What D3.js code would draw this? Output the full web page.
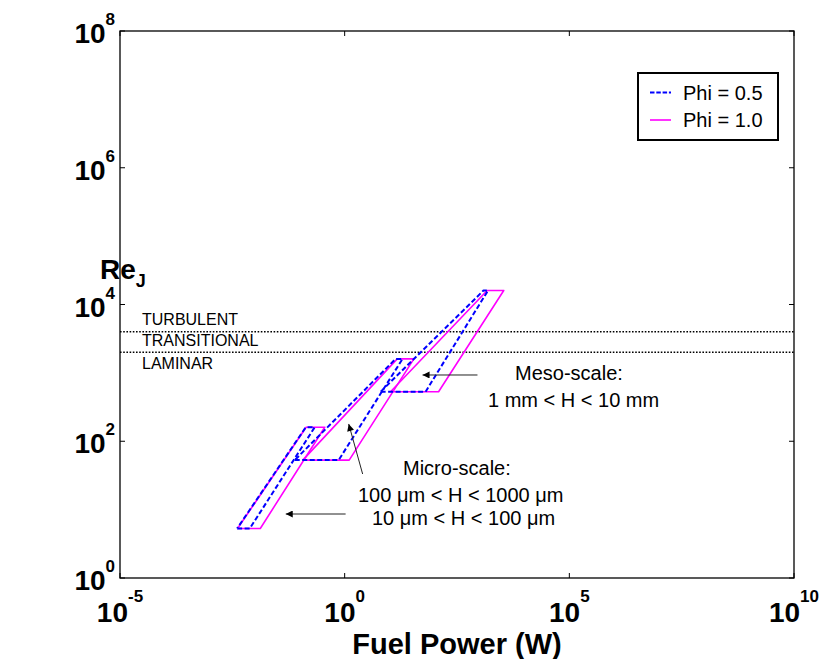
<!DOCTYPE html>
<html>
<head>
<meta charset="utf-8">
<script src="https://cdn.jsdelivr.net/npm/d3@7"></script>
<style>
  body { margin: 0; background: #fff; }
  svg text { font-family: "Liberation Sans", Arial, Helvetica, sans-serif; }
</style>
</head>
<body>
<svg id="chart" width="822" height="659"></svg>
<script>
// Corner points (fuel power in W, jet Reynolds number) of each operating region:
// rows = 10-100 um, 100-1000 um, 1-10 mm channel heights
const phi05Power = [
  [4.04e-3, 7.74e-3, 0.215, 0.136],
  [0.0774, 0.735, 19.4, 13.6],
  [6.31, 63.1, 1550, 1227]
];
const phi05Re = [
  [5.3, 5.3, 160, 160],
  [53, 53, 1600, 1600],
  [530, 530, 16000, 16000]
];
const phi10Power = [
  [4.13e-3, 0.01325, 0.36, 0.139],
  [0.117, 1.26, 34.7, 14.8],
  [10.5, 123, 3470, 1483]
];
const phi10Re = [
  [5.3, 5.3, 160, 160],
  [53, 53, 1600, 1600],
  [530, 530, 16000, 16000]
];

// Flow regime boundaries
const regimeRe = [2000, 4000];
const regimeNames = ["TURBULENT", "TRANSITIONAL", "LAMINAR"];

// Axis ticks (decade exponents)
const xTickExp = [-5, 0, 5, 10];
const yTickExp = [0, 2, 4, 6, 8];

// Legend entries
const seriesNames = ["Phi = 0.5", "Phi = 1.0"];

const m = { left: 120, right: 794, top: 31, bottom: 578 };

const svg = d3.select("#chart");

const x = d3.scaleLog().domain([1e-5, 1e10]).range([m.left, m.right]);
const y = d3.scaleLog().domain([1e0, 1e8]).range([m.bottom, m.top]);

// Plot frame
svg.append("rect")
  .attr("x", m.left).attr("y", m.top)
  .attr("width", m.right - m.left).attr("height", m.bottom - m.top)
  .attr("fill", "#fff").attr("stroke", "#000").attr("stroke-width", 1.3);

// Inward ticks on all four sides
const tickLen = 5;
const xTicks = xTickExp.map(e => Math.pow(10, e));
const yTicks = yTickExp.map(e => Math.pow(10, e));
const axisG = svg.append("g").attr("stroke", "#000").attr("stroke-width", 1);
xTicks.forEach(v => {
  axisG.append("line").attr("x1", x(v)).attr("x2", x(v)).attr("y1", m.bottom).attr("y2", m.bottom - tickLen);
  axisG.append("line").attr("x1", x(v)).attr("x2", x(v)).attr("y1", m.top).attr("y2", m.top + tickLen);
});
yTicks.forEach(v => {
  axisG.append("line").attr("x1", m.left).attr("x2", m.left + tickLen).attr("y1", y(v)).attr("y2", y(v));
  axisG.append("line").attr("x1", m.right).attr("x2", m.right - tickLen).attr("y1", y(v)).attr("y2", y(v));
});

// Tick labels: 10 with superscript exponent
xTickExp.forEach(e => {
  const t = svg.append("text")
    .attr("x", x(Math.pow(10, e))).attr("y", m.bottom + 44)
    .attr("text-anchor", "middle")
    .attr("font-weight", "bold").attr("font-size", 28).attr("fill", "#000");
  t.append("tspan").text("10");
  t.append("tspan").attr("dy", -20).attr("font-size", 17).text(e);
});
yTickExp.forEach(e => {
  const t = svg.append("text")
    .attr("x", 115).attr("y", y(Math.pow(10, e)) + 12)
    .attr("text-anchor", "end")
    .attr("font-weight", "bold").attr("font-size", 28).attr("fill", "#000");
  t.append("tspan").text("10");
  t.append("tspan").attr("dy", -18).attr("font-size", 17).text(e);
});

// Axis titles
svg.append("text")
  .attr("x", (m.left + m.right) / 2).attr("y", 654)
  .attr("text-anchor", "middle")
  .attr("font-weight", "bold").attr("font-size", 29)
  .text("Fuel Power (W)");
const yTitle = svg.append("text")
  .attr("x", 100).attr("y", 279)
  .attr("font-weight", "bold").attr("font-size", 28);
yTitle.append("tspan").text("Re");
yTitle.append("tspan").attr("dy", 8).attr("font-size", 18).text("J");

// Regime boundaries (dotted)
const plotG = svg.append("g");
regimeRe.forEach(r => {
  plotG.append("line")
    .attr("x1", m.left).attr("x2", m.right)
    .attr("y1", y(r)).attr("y2", y(r))
    .attr("stroke", "#000").attr("stroke-width", 1.6)
    .attr("stroke-dasharray", "1.6,1.6");
});
const regimeY = [y(regimeRe[1]) - 6.5, y(regimeRe[0]) - 6.5, y(regimeRe[0]) + 17];
regimeNames.forEach((name, i) => {
  plotG.append("text")
    .attr("x", 142).attr("y", regimeY[i])
    .attr("font-size", 16).attr("fill", "#000")
    .text(name);
});

// Operating regions
const line = d3.line().x(d => x(d[0])).y(d => y(d[1]));
function region(power, re, color, dash, width) {
  power.forEach((p, k) => {
    const pts = p.map((v, j) => [v, re[k][j]]);
    pts.push(pts[0]);
    plotG.append("path")
      .attr("d", line(pts))
      .attr("fill", "none")
      .attr("stroke", color)
      .attr("stroke-width", width)
      .attr("stroke-linejoin", "round")
      .attr("stroke-dasharray", dash);
  });
}
region(phi10Power, phi10Re, "#ff00ff", null, 1.6);
region(phi05Power, phi05Re, "#0000ff", "5,2.5", 2);

// Annotations
const annots = [
  { text: "Meso-scale:", x: 515, y: 380 },
  { text: "1 mm < H < 10 mm", x: 488, y: 407 },
  { text: "Micro-scale:", x: 403, y: 475 },
  { text: "100 \u03bcm < H < 1000 \u03bcm", x: 358, y: 502 },
  { text: "10 \u03bcm < H < 100 \u03bcm", x: 372, y: 525 }
];
annots.forEach(a => {
  plotG.append("text").attr("x", a.x).attr("y", a.y)
    .attr("font-size", 20).attr("fill", "#000").text(a.text);
});

// Arrows (tail -> head), in data coordinates
const arrows = [
  [[903, 931], [54.1, 931]],
  [[2.51, 33.2], [1.23, 179]],
  [[1.05, 8.63], [0.0489, 8.63]]
];
svg.append("defs").append("marker")
  .attr("id", "head").attr("viewBox", "0 0 10 10")
  .attr("refX", 10).attr("refY", 5)
  .attr("markerWidth", 10).attr("markerHeight", 7)
  .attr("markerUnits", "userSpaceOnUse")
  .attr("orient", "auto")
  .append("path").attr("d", "M0,0 L10,5 L0,10 z").attr("fill", "#000");
arrows.forEach(a => {
  plotG.append("line")
    .attr("x1", x(a[0][0])).attr("y1", y(a[0][1]))
    .attr("x2", x(a[1][0])).attr("y2", y(a[1][1]))
    .attr("stroke", "#222").attr("stroke-width", 1)
    .attr("marker-end", "url(#head)");
});

// Legend
const lg = svg.append("g");
lg.append("rect").attr("x", 638).attr("y", 73).attr("width", 140).attr("height", 67)
  .attr("fill", "#fff").attr("stroke", "#000").attr("stroke-width", 2);
const legendStyles = [
  { color: "#0000ff", dash: "4.5,1.8", width: 2 },
  { color: "#ff00ff", dash: null, width: 1.6 }
];
seriesNames.forEach((name, i) => {
  const cy = 92.5 + i * 27.5;
  lg.append("line").attr("x1", 650).attr("x2", 671).attr("y1", cy).attr("y2", cy)
    .attr("stroke", legendStyles[i].color).attr("stroke-width", legendStyles[i].width)
    .attr("stroke-dasharray", legendStyles[i].dash);
  lg.append("text").attr("x", 683).attr("y", cy + 7)
    .attr("font-size", 20).attr("fill", "#000").text(name);
});
</script>
</body>
</html>
